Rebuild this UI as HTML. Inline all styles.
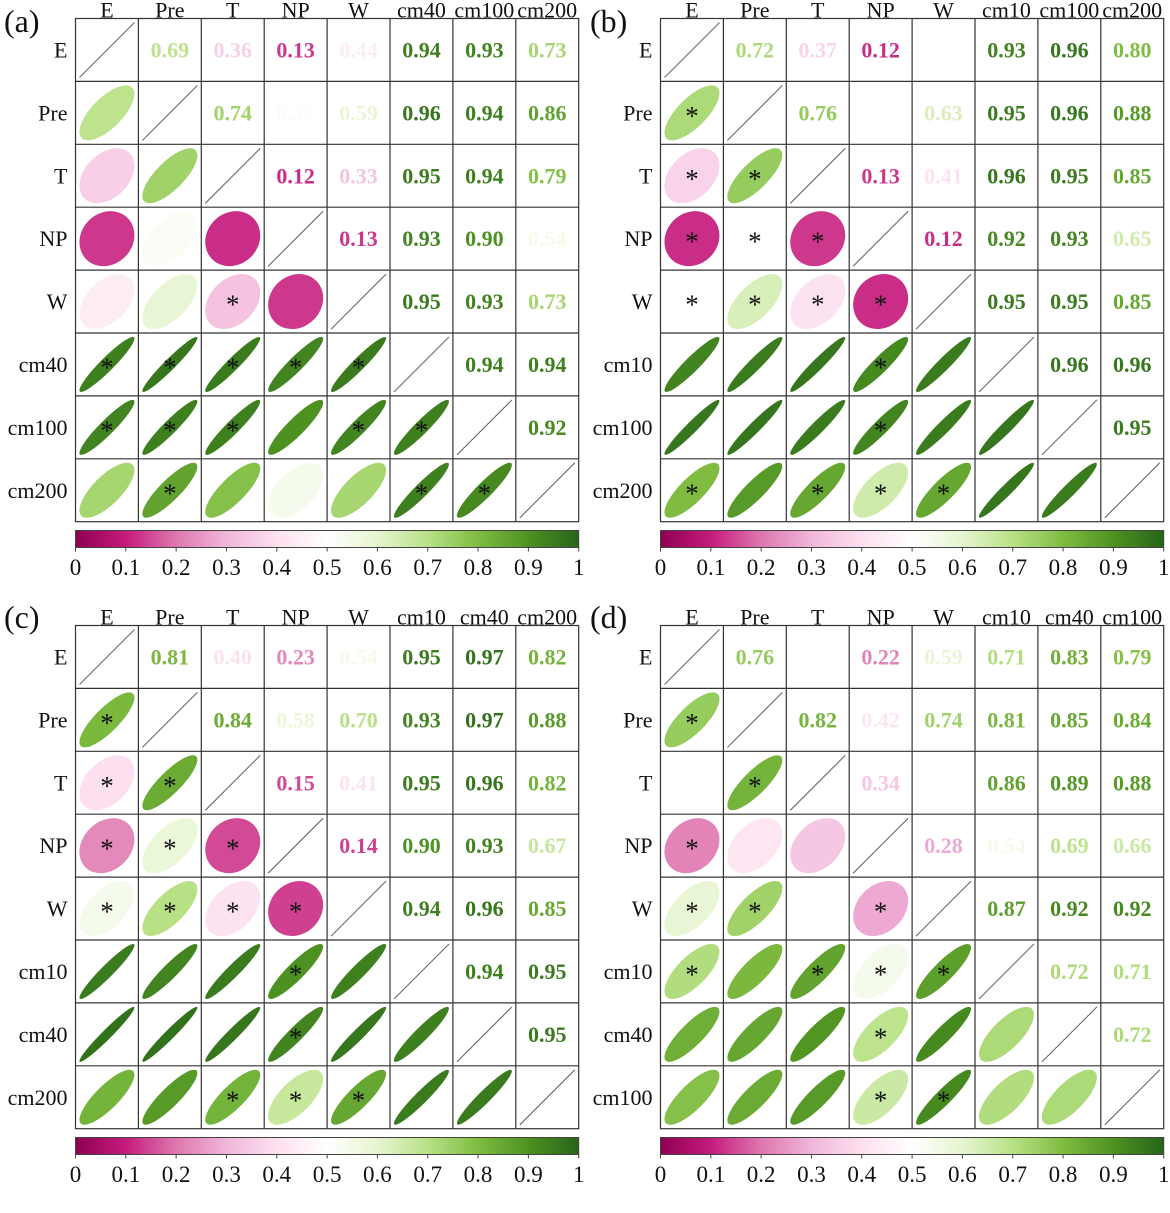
<!DOCTYPE html>
<html><head><meta charset="utf-8"><style>
html,body{margin:0;padding:0;background:#fff}
svg{display:block}
text{font-family:"Liberation Serif",serif}
.v{font-weight:bold;font-size:22px;text-anchor:middle}
.cl{font-size:22px;text-anchor:middle;fill:#111}
.rl{font-size:22px;text-anchor:end;fill:#111}
.tk{font-size:23px;text-anchor:middle;fill:#111}
.s{font-size:27px;text-anchor:middle;fill:#111}
.pl{font-size:32px;fill:#111}
</style></head><body>
<svg id="S" width="1170" height="1213" viewBox="0 0 1170 1213" xmlns="http://www.w3.org/2000/svg">
<defs><linearGradient id="cb" x1="0" x2="1" y1="0" y2="0">
<stop offset="0" stop-color="#8e0152"/><stop offset="0.1" stop-color="#c51b7d"/><stop offset="0.2" stop-color="#de77ae"/><stop offset="0.3" stop-color="#f1b6da"/><stop offset="0.4" stop-color="#fde0ef"/><stop offset="0.5" stop-color="#ffffff"/><stop offset="0.6" stop-color="#e6f5d0"/><stop offset="0.7" stop-color="#b8e186"/><stop offset="0.8" stop-color="#7fbc41"/><stop offset="0.9" stop-color="#4d9221"/><stop offset="1" stop-color="#276419"/>
</linearGradient></defs>
<text class="pl" x="4" y="32">(a)</text>
<text class="pl" x="590" y="32">(b)</text>
<text class="pl" x="4" y="628">(c)</text>
<text class="pl" x="590" y="628">(d)</text>

<!-- Panel a -->
<g class="p" transform="translate(75.5,18.5)">
<g class="e"></g>
<g><text class="cl" x="31.45" y="-1">E</text><text class="cl" x="94.35" y="-1">Pre</text><text class="cl" x="157.25" y="-1">T</text><text class="cl" x="220.15" y="-1">NP</text><text class="cl" x="283.05" y="-1">W</text><text class="cl" x="345.95" y="-1">cm40</text><text class="cl" x="408.85" y="-1">cm100</text><text class="cl" x="471.75" y="-1">cm200</text></g>
<g><text class="rl" x="-8" y="38.95">E</text><text class="rl" x="-8" y="101.85">Pre</text><text class="rl" x="-8" y="164.75">T</text><text class="rl" x="-8" y="227.65">NP</text><text class="rl" x="-8" y="290.55">W</text><text class="rl" x="-8" y="353.45">cm40</text><text class="rl" x="-8" y="416.35">cm100</text><text class="rl" x="-8" y="479.25">cm200</text></g>
<g transform="translate(0,38.95)"><text class="v" x="94.35">0.69</text><text class="v" x="157.25">0.36</text><text class="v" x="220.15">0.13</text><text class="v" x="283.05">0.44</text><text class="v" x="345.95">0.94</text><text class="v" x="408.85">0.93</text><text class="v" x="471.75">0.73</text></g>
<g transform="translate(0,101.85)"><text class="v" x="157.25">0.74</text><text class="v" x="220.15">0.52</text><text class="v" x="283.05">0.59</text><text class="v" x="345.95">0.96</text><text class="v" x="408.85">0.94</text><text class="v" x="471.75">0.86</text></g>
<g transform="translate(0,164.75)"><text class="v" x="220.15">0.12</text><text class="v" x="283.05">0.33</text><text class="v" x="345.95">0.95</text><text class="v" x="408.85">0.94</text><text class="v" x="471.75">0.79</text></g>
<g transform="translate(0,227.65)"><text class="v" x="283.05">0.13</text><text class="v" x="345.95">0.93</text><text class="v" x="408.85">0.90</text><text class="v" x="471.75">0.54</text></g>
<g transform="translate(0,290.55)"><text class="v" x="345.95">0.95</text><text class="v" x="408.85">0.93</text><text class="v" x="471.75">0.73</text></g>
<g transform="translate(0,353.45)"><text class="v" x="408.85">0.94</text><text class="v" x="471.75">0.94</text></g>
<g transform="translate(0,416.35)"><text class="v" x="471.75">0.92</text></g>
<g>
<text class="s" x="157.25" y="295.05">*</text>
<text class="s" x="31.45" y="357.95">*</text><text class="s" x="94.35" y="357.95">*</text><text class="s" x="157.25" y="357.95">*</text><text class="s" x="220.15" y="357.95">*</text><text class="s" x="283.05" y="357.95">*</text>
<text class="s" x="31.45" y="420.85">*</text><text class="s" x="94.35" y="420.85">*</text><text class="s" x="157.25" y="420.85">*</text><text class="s" x="283.05" y="420.85">*</text><text class="s" x="345.95" y="420.85">*</text>
<text class="s" x="94.35" y="483.75">*</text><text class="s" x="345.95" y="483.75">*</text><text class="s" x="408.85" y="483.75">*</text>
</g>
<g><text class="tk" x="0" y="556.5">0</text><text class="tk" x="50.32" y="556.5">0.1</text><text class="tk" x="100.64" y="556.5">0.2</text><text class="tk" x="150.96" y="556.5">0.3</text><text class="tk" x="201.28" y="556.5">0.4</text><text class="tk" x="251.6" y="556.5">0.5</text><text class="tk" x="301.92" y="556.5">0.6</text><text class="tk" x="352.24" y="556.5">0.7</text><text class="tk" x="402.56" y="556.5">0.8</text><text class="tk" x="452.88" y="556.5">0.9</text><text class="tk" x="503.2" y="556.5">1</text></g>
</g>

<!-- Panel b -->
<g class="p" transform="translate(660.5,18.5)">
<g class="e"></g>
<g><text class="cl" x="31.45" y="-1">E</text><text class="cl" x="94.35" y="-1">Pre</text><text class="cl" x="157.25" y="-1">T</text><text class="cl" x="220.15" y="-1">NP</text><text class="cl" x="283.05" y="-1">W</text><text class="cl" x="345.95" y="-1">cm10</text><text class="cl" x="408.85" y="-1">cm100</text><text class="cl" x="471.75" y="-1">cm200</text></g>
<g><text class="rl" x="-8" y="38.95">E</text><text class="rl" x="-8" y="101.85">Pre</text><text class="rl" x="-8" y="164.75">T</text><text class="rl" x="-8" y="227.65">NP</text><text class="rl" x="-8" y="290.55">W</text><text class="rl" x="-8" y="353.45">cm10</text><text class="rl" x="-8" y="416.35">cm100</text><text class="rl" x="-8" y="479.25">cm200</text></g>
<g transform="translate(0,38.95)"><text class="v" x="94.35">0.72</text><text class="v" x="157.25">0.37</text><text class="v" x="220.15">0.12</text><text class="v" x="283.05">0.50</text><text class="v" x="345.95">0.93</text><text class="v" x="408.85">0.96</text><text class="v" x="471.75">0.80</text></g>
<g transform="translate(0,101.85)"><text class="v" x="157.25">0.76</text><text class="v" x="220.15">0.50</text><text class="v" x="283.05">0.63</text><text class="v" x="345.95">0.95</text><text class="v" x="408.85">0.96</text><text class="v" x="471.75">0.88</text></g>
<g transform="translate(0,164.75)"><text class="v" x="220.15">0.13</text><text class="v" x="283.05">0.41</text><text class="v" x="345.95">0.96</text><text class="v" x="408.85">0.95</text><text class="v" x="471.75">0.85</text></g>
<g transform="translate(0,227.65)"><text class="v" x="283.05">0.12</text><text class="v" x="345.95">0.92</text><text class="v" x="408.85">0.93</text><text class="v" x="471.75">0.65</text></g>
<g transform="translate(0,290.55)"><text class="v" x="345.95">0.95</text><text class="v" x="408.85">0.95</text><text class="v" x="471.75">0.85</text></g>
<g transform="translate(0,353.45)"><text class="v" x="408.85">0.96</text><text class="v" x="471.75">0.96</text></g>
<g transform="translate(0,416.35)"><text class="v" x="471.75">0.95</text></g>
<g>
<text class="s" x="31.45" y="106.35">*</text>
<text class="s" x="31.45" y="169.25">*</text><text class="s" x="94.35" y="169.25">*</text>
<text class="s" x="31.45" y="232.15">*</text><text class="s" x="94.35" y="232.15">*</text><text class="s" x="157.25" y="232.15">*</text>
<text class="s" x="31.45" y="295.05">*</text><text class="s" x="94.35" y="295.05">*</text><text class="s" x="157.25" y="295.05">*</text><text class="s" x="220.15" y="295.05">*</text>
<text class="s" x="220.15" y="357.95">*</text>
<text class="s" x="220.15" y="420.85">*</text>
<text class="s" x="31.45" y="483.75">*</text><text class="s" x="157.25" y="483.75">*</text><text class="s" x="220.15" y="483.75">*</text><text class="s" x="283.05" y="483.75">*</text>
</g>
<g><text class="tk" x="0" y="556.5">0</text><text class="tk" x="50.32" y="556.5">0.1</text><text class="tk" x="100.64" y="556.5">0.2</text><text class="tk" x="150.96" y="556.5">0.3</text><text class="tk" x="201.28" y="556.5">0.4</text><text class="tk" x="251.6" y="556.5">0.5</text><text class="tk" x="301.92" y="556.5">0.6</text><text class="tk" x="352.24" y="556.5">0.7</text><text class="tk" x="402.56" y="556.5">0.8</text><text class="tk" x="452.88" y="556.5">0.9</text><text class="tk" x="503.2" y="556.5">1</text></g>
</g>

<!-- Panel c -->
<g class="p" transform="translate(75.5,625.5)">
<g class="e"></g>
<g><text class="cl" x="31.45" y="-1">E</text><text class="cl" x="94.35" y="-1">Pre</text><text class="cl" x="157.25" y="-1">T</text><text class="cl" x="220.15" y="-1">NP</text><text class="cl" x="283.05" y="-1">W</text><text class="cl" x="345.95" y="-1">cm10</text><text class="cl" x="408.85" y="-1">cm40</text><text class="cl" x="471.75" y="-1">cm200</text></g>
<g><text class="rl" x="-8" y="38.95">E</text><text class="rl" x="-8" y="101.85">Pre</text><text class="rl" x="-8" y="164.75">T</text><text class="rl" x="-8" y="227.65">NP</text><text class="rl" x="-8" y="290.55">W</text><text class="rl" x="-8" y="353.45">cm10</text><text class="rl" x="-8" y="416.35">cm40</text><text class="rl" x="-8" y="479.25">cm200</text></g>
<g transform="translate(0,38.95)"><text class="v" x="94.35">0.81</text><text class="v" x="157.25">0.40</text><text class="v" x="220.15">0.23</text><text class="v" x="283.05">0.54</text><text class="v" x="345.95">0.95</text><text class="v" x="408.85">0.97</text><text class="v" x="471.75">0.82</text></g>
<g transform="translate(0,101.85)"><text class="v" x="157.25">0.84</text><text class="v" x="220.15">0.58</text><text class="v" x="283.05">0.70</text><text class="v" x="345.95">0.93</text><text class="v" x="408.85">0.97</text><text class="v" x="471.75">0.88</text></g>
<g transform="translate(0,164.75)"><text class="v" x="220.15">0.15</text><text class="v" x="283.05">0.41</text><text class="v" x="345.95">0.95</text><text class="v" x="408.85">0.96</text><text class="v" x="471.75">0.82</text></g>
<g transform="translate(0,227.65)"><text class="v" x="283.05">0.14</text><text class="v" x="345.95">0.90</text><text class="v" x="408.85">0.93</text><text class="v" x="471.75">0.67</text></g>
<g transform="translate(0,290.55)"><text class="v" x="345.95">0.94</text><text class="v" x="408.85">0.96</text><text class="v" x="471.75">0.85</text></g>
<g transform="translate(0,353.45)"><text class="v" x="408.85">0.94</text><text class="v" x="471.75">0.95</text></g>
<g transform="translate(0,416.35)"><text class="v" x="471.75">0.95</text></g>
<g>
<text class="s" x="31.45" y="106.35">*</text>
<text class="s" x="31.45" y="169.25">*</text><text class="s" x="94.35" y="169.25">*</text>
<text class="s" x="31.45" y="232.15">*</text><text class="s" x="94.35" y="232.15">*</text><text class="s" x="157.25" y="232.15">*</text>
<text class="s" x="31.45" y="295.05">*</text><text class="s" x="94.35" y="295.05">*</text><text class="s" x="157.25" y="295.05">*</text><text class="s" x="220.15" y="295.05">*</text>
<text class="s" x="220.15" y="357.95">*</text>
<text class="s" x="220.15" y="420.85">*</text>
<text class="s" x="157.25" y="483.75">*</text><text class="s" x="220.15" y="483.75">*</text><text class="s" x="283.05" y="483.75">*</text>
</g>
<g><text class="tk" x="0" y="556.5">0</text><text class="tk" x="50.32" y="556.5">0.1</text><text class="tk" x="100.64" y="556.5">0.2</text><text class="tk" x="150.96" y="556.5">0.3</text><text class="tk" x="201.28" y="556.5">0.4</text><text class="tk" x="251.6" y="556.5">0.5</text><text class="tk" x="301.92" y="556.5">0.6</text><text class="tk" x="352.24" y="556.5">0.7</text><text class="tk" x="402.56" y="556.5">0.8</text><text class="tk" x="452.88" y="556.5">0.9</text><text class="tk" x="503.2" y="556.5">1</text></g>
</g>

<!-- Panel d -->
<g class="p" transform="translate(660.5,625.5)">
<g class="e"></g>
<g><text class="cl" x="31.45" y="-1">E</text><text class="cl" x="94.35" y="-1">Pre</text><text class="cl" x="157.25" y="-1">T</text><text class="cl" x="220.15" y="-1">NP</text><text class="cl" x="283.05" y="-1">W</text><text class="cl" x="345.95" y="-1">cm10</text><text class="cl" x="408.85" y="-1">cm40</text><text class="cl" x="471.75" y="-1">cm100</text></g>
<g><text class="rl" x="-8" y="38.95">E</text><text class="rl" x="-8" y="101.85">Pre</text><text class="rl" x="-8" y="164.75">T</text><text class="rl" x="-8" y="227.65">NP</text><text class="rl" x="-8" y="290.55">W</text><text class="rl" x="-8" y="353.45">cm10</text><text class="rl" x="-8" y="416.35">cm40</text><text class="rl" x="-8" y="479.25">cm100</text></g>
<g transform="translate(0,38.95)"><text class="v" x="94.35">0.76</text><text class="v" x="157.25">0.50</text><text class="v" x="220.15">0.22</text><text class="v" x="283.05">0.59</text><text class="v" x="345.95">0.71</text><text class="v" x="408.85">0.83</text><text class="v" x="471.75">0.79</text></g>
<g transform="translate(0,101.85)"><text class="v" x="157.25">0.82</text><text class="v" x="220.15">0.42</text><text class="v" x="283.05">0.74</text><text class="v" x="345.95">0.81</text><text class="v" x="408.85">0.85</text><text class="v" x="471.75">0.84</text></g>
<g transform="translate(0,164.75)"><text class="v" x="220.15">0.34</text><text class="v" x="283.05">0.50</text><text class="v" x="345.95">0.86</text><text class="v" x="408.85">0.89</text><text class="v" x="471.75">0.88</text></g>
<g transform="translate(0,227.65)"><text class="v" x="283.05">0.28</text><text class="v" x="345.95">0.54</text><text class="v" x="408.85">0.69</text><text class="v" x="471.75">0.66</text></g>
<g transform="translate(0,290.55)"><text class="v" x="345.95">0.87</text><text class="v" x="408.85">0.92</text><text class="v" x="471.75">0.92</text></g>
<g transform="translate(0,353.45)"><text class="v" x="408.85">0.72</text><text class="v" x="471.75">0.71</text></g>
<g transform="translate(0,416.35)"><text class="v" x="471.75">0.72</text></g>
<g>
<text class="s" x="31.45" y="106.35">*</text>
<text class="s" x="94.35" y="169.25">*</text>
<text class="s" x="31.45" y="232.15">*</text>
<text class="s" x="31.45" y="295.05">*</text><text class="s" x="94.35" y="295.05">*</text><text class="s" x="220.15" y="295.05">*</text>
<text class="s" x="31.45" y="357.95">*</text><text class="s" x="157.25" y="357.95">*</text><text class="s" x="220.15" y="357.95">*</text><text class="s" x="283.05" y="357.95">*</text>
<text class="s" x="220.15" y="420.85">*</text>
<text class="s" x="220.15" y="483.75">*</text><text class="s" x="283.05" y="483.75">*</text>
</g>
<g><text class="tk" x="0" y="556.5">0</text><text class="tk" x="50.32" y="556.5">0.1</text><text class="tk" x="100.64" y="556.5">0.2</text><text class="tk" x="150.96" y="556.5">0.3</text><text class="tk" x="201.28" y="556.5">0.4</text><text class="tk" x="251.6" y="556.5">0.5</text><text class="tk" x="301.92" y="556.5">0.6</text><text class="tk" x="352.24" y="556.5">0.7</text><text class="tk" x="402.56" y="556.5">0.8</text><text class="tk" x="452.88" y="556.5">0.9</text><text class="tk" x="503.2" y="556.5">1</text></g>
</g>
</svg>
<script>
(function(){
var NS="http://www.w3.org/2000/svg";
var st=[[0,[0x8e,0x01,0x52]],[.1,[0xc5,0x1b,0x7d]],[.2,[0xde,0x77,0xae]],[.3,[0xf1,0xb6,0xda]],[.4,[0xfd,0xe0,0xef]],[.5,[0xff,0xff,0xff]],[.6,[0xe6,0xf5,0xd0]],[.7,[0xb8,0xe1,0x86]],[.8,[0x7f,0xbc,0x41]],[.9,[0x4d,0x92,0x21]],[1,[0x27,0x64,0x19]]];
function col(v){v=Math.max(0,Math.min(1,v));for(var k=0;k<st.length-1;k++){if(v<=st[k+1][0]){var t=(v-st[k][0])/(st[k+1][0]-st[k][0]);var a=st[k][1],b=st[k+1][1];return "rgb("+[0,1,2].map(function(i){return Math.round(a[i]+(b[i]-a[i])*t)}).join(",")+")";}}return "rgb(39,100,25)";}
function el(n,a,p){var e=document.createElementNS(NS,n);for(var k in a)e.setAttribute(k,a[k]);p.appendChild(e);return e;}
var C=62.9,W=C*8,R=27.5;
var ps=document.querySelectorAll("g.p");
for(var q=0;q<ps.length;q++){
 var g=ps[q],eg=g.querySelector("g.e");
 var vs=g.querySelectorAll("text.v"),M={},n=0;
 for(var i=0;i<7;i++)for(var j=i+1;j<8;j++){var t=vs[n++];var v=parseFloat(t.textContent);t.setAttribute("fill",col(v));M[i+","+j]=v;}
 for(var i=0;i<7;i++)for(var j=i+1;j<8;j++){
  var v=M[i+","+j],cx=C*i+C/2,cy=C*j+C/2;
  el("ellipse",{cx:0,cy:0,rx:R*Math.sqrt(1+v),ry:R*Math.sqrt(1-v),fill:col(v),transform:"translate("+cx+","+cy+") rotate(-45)"},eg);
 }
 var d="";
 for(var k=1;k<8;k++){d+="M"+(C*k)+",0V"+W+"M0,"+(C*k)+"H"+W;}
 el("path",{d:d,stroke:"#333",'stroke-width':1.2,fill:"none"},eg);
 el("rect",{x:0,y:0,width:W,height:W,stroke:"#333",'stroke-width':1.2,fill:"none"},eg);
 var dd="";for(var k=0;k<8;k++){dd+="M"+(C*k+4)+","+(C*k+59)+"l55,-55";}
 el("path",{d:dd,stroke:"#6a6a6a",'stroke-width':1.1,fill:"none"},eg);
 el("rect",{x:0,y:512,width:W,height:17,fill:"url(#cb)",stroke:"#444",'stroke-width':1},eg);
 var td="";for(var k=0;k<=10;k++){td+="M"+(W*k/10)+",529v4";}
 el("path",{d:td,stroke:"#444",'stroke-width':1,fill:"none"},eg);
}
})();
</script>
</body></html>
